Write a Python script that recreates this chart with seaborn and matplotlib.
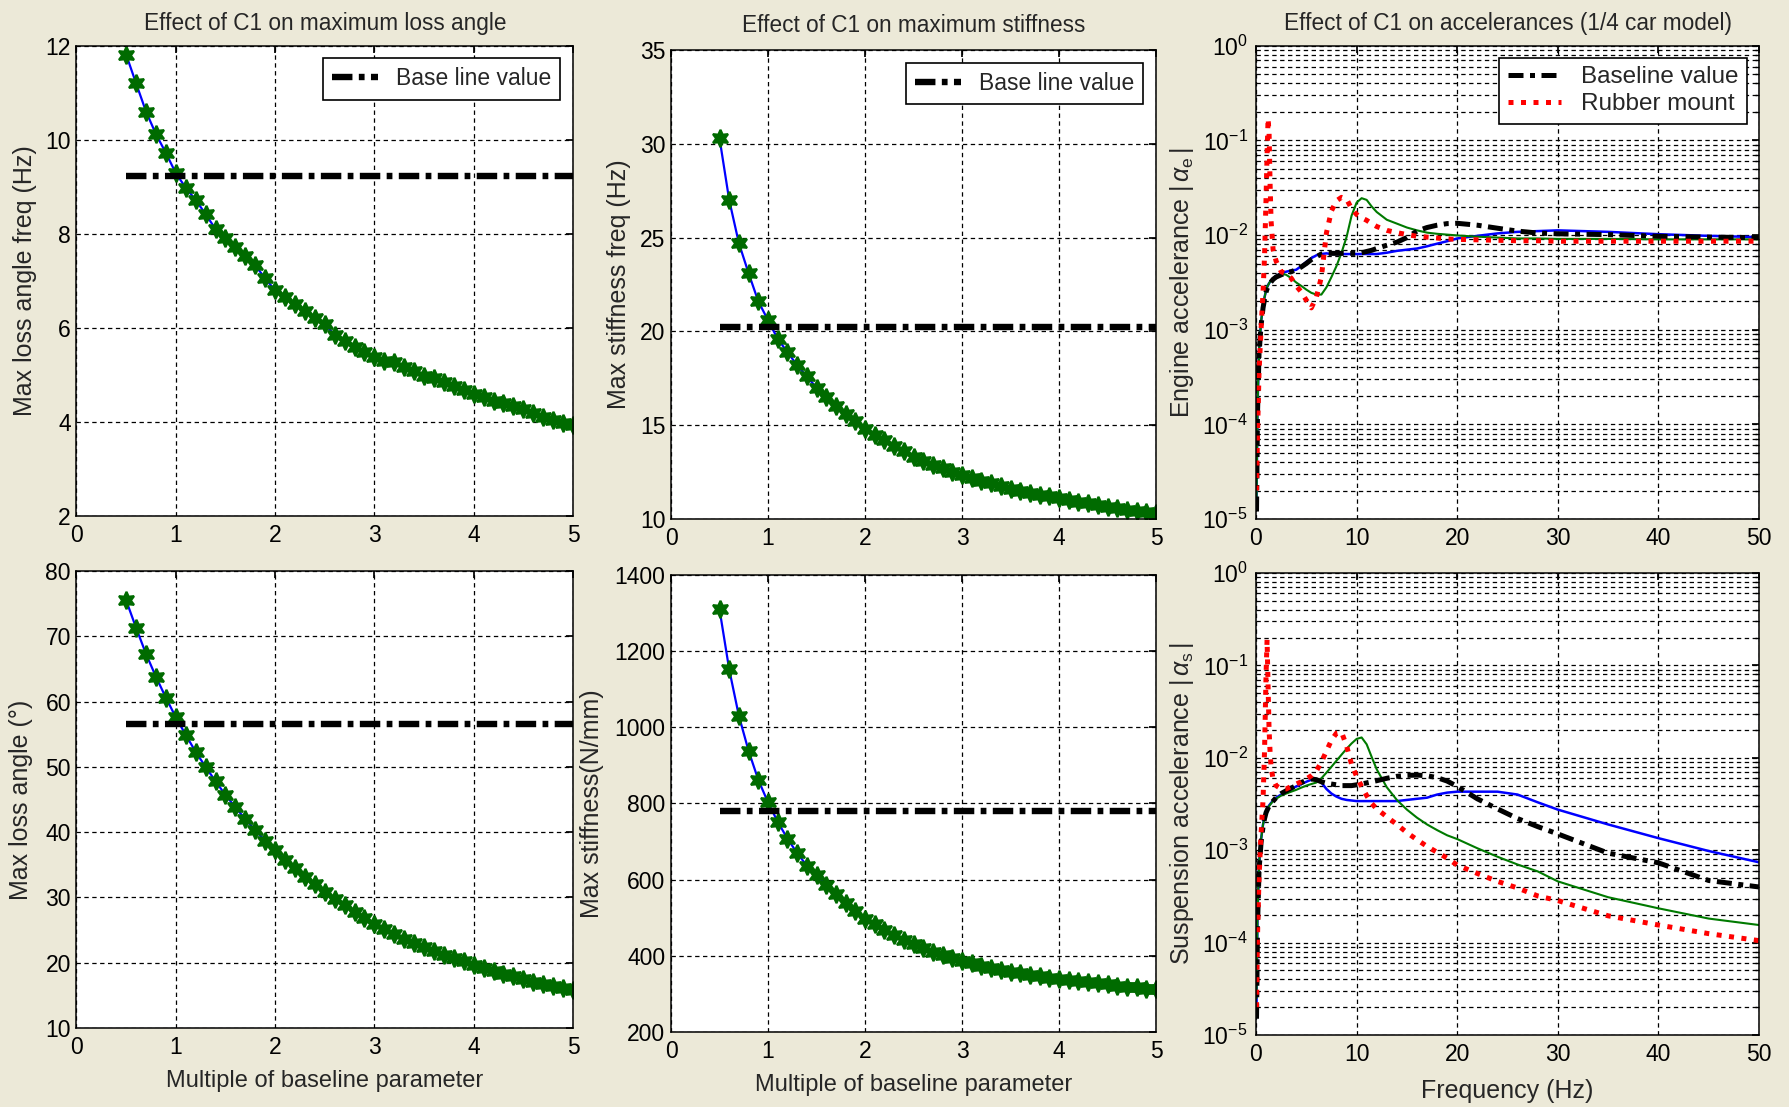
import numpy as np
import pandas as pd
import matplotlib
matplotlib.use("Agg")
import matplotlib.pyplot as plt
import seaborn as sns
from matplotlib.ticker import LogLocator, NullFormatter, LogFormatterMathtext

# ---------------- data ----------------
mult = [0.5, 0.6, 0.7, 0.8, 0.9, 1.0, 1.1, 1.2, 1.3, 1.4, 1.5, 1.6, 1.7, 1.8, 1.9,
        2.0, 2.1, 2.2, 2.3, 2.4, 2.5, 2.6, 2.7, 2.8, 2.9, 3.0, 3.1, 3.2, 3.3, 3.4,
        3.5, 3.6, 3.7, 3.8, 3.9, 4.0, 4.1, 4.2, 4.3, 4.4, 4.5, 4.6, 4.7, 4.8, 4.9, 5.0]

loss_freq = [11.81, 11.20, 10.60, 10.12, 9.72, 9.29, 8.98, 8.72, 8.42, 8.10, 7.92, 7.72,
             7.52, 7.33, 7.05, 6.80, 6.66, 6.50, 6.35, 6.22, 6.08, 5.85, 5.72, 5.60, 5.48,
             5.39, 5.30, 5.28, 5.17, 5.08, 4.98, 4.93, 4.84, 4.76, 4.68, 4.60, 4.52, 4.45,
             4.40, 4.33, 4.28, 4.20, 4.10, 4.05, 3.98, 3.93]

stiff_freq = [30.3, 27.0, 24.7, 23.1, 21.6, 20.6, 19.6, 18.9, 18.2, 17.6, 17.0, 16.5, 16.0,
              15.6, 15.2, 14.8, 14.5, 14.2, 13.9, 13.6, 13.3, 13.1, 12.9, 12.7, 12.5, 12.35,
              12.2, 12.05, 11.9, 11.75, 11.6, 11.5, 11.4, 11.3, 11.2, 11.1, 11.0, 10.9, 10.85,
              10.75, 10.65, 10.6, 10.5, 10.4, 10.35, 10.3]

loss_angle = [75.5, 71.3, 67.3, 63.8, 60.6, 57.6, 54.9, 52.3, 50.0, 47.8, 45.7, 43.8, 42.0,
              40.3, 38.7, 37.2, 35.8, 34.5, 33.2, 32.0, 30.9, 29.8, 28.8, 27.8, 26.9, 26.0,
              25.2, 24.4, 23.7, 23.0, 22.4, 21.8, 21.2, 20.7, 20.2, 19.7, 19.2, 18.7, 18.3,
              17.9, 17.5, 17.1, 16.8, 16.4, 16.1, 15.8]

max_stiff = [1310, 1152, 1030, 938, 862, 803, 752, 708, 670, 637, 612, 586, 562, 539, 518,
             498, 483, 469, 456, 442, 430, 420, 410, 401, 393, 386, 380, 374, 368, 363, 358,
             354, 350, 346, 343, 340, 337, 334, 331, 328, 325, 322, 319, 317, 314, 312]

base_x = [0.5, 5.0]
base_loss_freq = [9.24, 9.24]
base_stiff_freq = [20.23, 20.23]
base_loss_angle = [56.6, 56.6]
base_max_stiff = [780, 780]

freq = [0.05, 0.15, 0.3, 0.5, 0.7, 0.85, 1.0, 1.1, 1.2, 1.3, 1.4, 1.5, 1.7, 2.0, 2.5, 3.0,
        3.5, 4.0, 4.5, 5.0, 5.5, 6.0, 6.5, 7.0, 7.5, 8.0, 8.5, 9.0, 9.5, 10.0, 10.5, 11.0,
        11.5, 12.0, 13.0, 14.0, 15.0, 16.0, 17.0, 18.0, 19.0, 20.0, 22.0, 24.0, 26.0, 28.0,
        30.0, 35.0, 40.0, 45.0, 50.0]

# engine accelerance
eng_blue = [1.5e-5, 1.5e-4, 6e-4, 1.2e-3, 1.8e-3, 2.2e-3, 2.6e-3, 2.8e-3, 2.95e-3, 3.1e-3,
            3.2e-3, 3.3e-3, 3.5e-3, 3.7e-3, 3.95e-3, 4.1e-3, 4.2e-3, 4.3e-3, 4.7e-3, 5.2e-3,
            5.7e-3, 6.1e-3, 6.3e-3, 6.4e-3, 6.3e-3, 6.3e-3, 6.3e-3, 6.3e-3, 6.3e-3, 6.3e-3,
            6.3e-3, 6.3e-3, 6.3e-3, 6.3e-3, 6.5e-3, 6.8e-3, 7.0e-3, 7.2e-3, 7.6e-3, 8.1e-3,
            8.6e-3, 9.2e-3, 9.8e-3, 1.04e-2, 1.08e-2, 1.10e-2, 1.12e-2, 1.08e-2, 1.02e-2,
            9.8e-3, 9.5e-3]
eng_green = [1.5e-5, 1.5e-4, 6e-4, 1.2e-3, 1.8e-3, 2.2e-3, 2.6e-3, 2.8e-3, 2.95e-3, 3.1e-3,
             3.2e-3, 3.3e-3, 3.5e-3, 3.7e-3, 3.9e-3, 3.8e-3, 3.5e-3, 3.15e-3, 2.9e-3, 2.65e-3,
             2.45e-3, 2.35e-3, 2.35e-3, 2.8e-3, 3.6e-3, 4.7e-3, 6.5e-3, 9.5e-3, 1.6e-2, 2.2e-2,
             2.45e-2, 2.35e-2, 2.0e-2, 1.75e-2, 1.45e-2, 1.32e-2, 1.20e-2, 1.12e-2, 1.06e-2,
             1.03e-2, 1.01e-2, 9.9e-3, 9.6e-3, 9.4e-3, 9.2e-3, 9.2e-3, 9.1e-3, 9.1e-3, 9.0e-3,
             9.0e-3, 9.0e-3]
eng_base = [1.2e-5, 1.3e-4, 5.5e-4, 1.1e-3, 1.7e-3, 2.1e-3, 2.5e-3, 2.7e-3, 2.85e-3, 3.0e-3,
            3.1e-3, 3.2e-3, 3.4e-3, 3.6e-3, 3.8e-3, 4.0e-3, 4.1e-3, 4.3e-3, 4.6e-3, 5.0e-3,
            5.5e-3, 5.9e-3, 6.3e-3, 6.4e-3, 6.4e-3, 6.4e-3, 6.4e-3, 6.4e-3, 6.4e-3, 6.4e-3,
            6.5e-3, 6.7e-3, 6.9e-3, 7.2e-3, 7.8e-3, 8.4e-3, 9.4e-3, 1.10e-2, 1.20e-2, 1.27e-2,
            1.32e-2, 1.33e-2, 1.27e-2, 1.18e-2, 1.10e-2, 1.05e-2, 1.03e-2, 1.01e-2, 9.7e-3,
            9.5e-3, 9.4e-3]
eng_rubber = [2e-5, 8e-5, 3.5e-4, 1.0e-3, 2.5e-3, 6e-3, 2.5e-2, 7e-2, 1.7e-1, 1.2e-1, 3.5e-2,
              1.4e-2, 7e-3, 5.3e-3, 4.1e-3, 3.9e-3, 3.5e-3, 2.9e-3, 2.5e-3, 2.05e-3, 1.7e-3,
              2.2e-3, 3.6e-3, 1.05e-2, 1.8e-2, 2.3e-2, 2.5e-2, 2.4e-2, 1.9e-2, 1.65e-2, 1.52e-2,
              1.43e-2, 1.32e-2, 1.23e-2, 1.12e-2, 1.06e-2, 1.01e-2, 9.7e-3, 9.5e-3, 9.3e-3,
              9.1e-3, 9.0e-3, 8.9e-3, 8.8e-3, 8.7e-3, 8.7e-3, 8.6e-3, 8.6e-3, 8.6e-3, 8.6e-3,
              8.6e-3]

# suspension accelerance
sus_blue = [2e-5, 2e-4, 7e-4, 1.3e-3, 1.9e-3, 2.3e-3, 2.6e-3, 2.75e-3, 2.9e-3, 3.05e-3,
            3.15e-3, 3.25e-3, 3.45e-3, 3.7e-3, 4.0e-3, 4.3e-3, 4.6e-3, 4.9e-3, 5.2e-3, 5.5e-3,
            5.8e-3, 5.9e-3, 5.4e-3, 4.6e-3, 4.1e-3, 3.8e-3, 3.6e-3, 3.5e-3, 3.45e-3, 3.4e-3,
            3.4e-3, 3.4e-3, 3.4e-3, 3.4e-3, 3.4e-3, 3.4e-3, 3.5e-3, 3.6e-3, 3.7e-3, 4.0e-3,
            4.2e-3, 4.3e-3, 4.3e-3, 4.3e-3, 4.0e-3, 3.3e-3, 2.75e-3, 1.9e-3, 1.35e-3, 9.8e-4,
            7.4e-4]
sus_green = [2.5e-5, 2e-4, 7e-4, 1.3e-3, 1.9e-3, 2.25e-3, 2.55e-3, 2.7e-3, 2.85e-3, 3.0e-3,
             3.1e-3, 3.2e-3, 3.4e-3, 3.6e-3, 3.9e-3, 4.1e-3, 4.3e-3, 4.5e-3, 4.75e-3, 5.0e-3,
             5.2e-3, 5.4e-3, 6.0e-3, 6.9e-3, 8.0e-3, 9.3e-3, 1.08e-2, 1.25e-2, 1.43e-2, 1.6e-2,
             1.66e-2, 1.4e-2, 1.02e-2, 7.5e-3, 4.8e-3, 3.5e-3, 2.75e-3, 2.25e-3, 1.9e-3,
             1.65e-3, 1.45e-3, 1.32e-3, 1.05e-3, 8.5e-4, 7.0e-4, 5.9e-4, 4.6e-4, 3.1e-4,
             2.35e-4, 1.82e-4, 1.55e-4]
sus_base = [1.5e-5, 1.5e-4, 6e-4, 1.2e-3, 1.8e-3, 2.2e-3, 2.55e-3, 2.7e-3, 2.85e-3, 3.0e-3,
            3.1e-3, 3.2e-3, 3.4e-3, 3.7e-3, 4.1e-3, 4.4e-3, 4.7e-3, 5.0e-3, 5.4e-3, 5.7e-3,
            5.9e-3, 5.8e-3, 5.5e-3, 5.3e-3, 5.2e-3, 5.1e-3, 5.0e-3, 5.0e-3, 5.0e-3, 5.1e-3,
            5.2e-3, 5.35e-3, 5.5e-3, 5.65e-3, 6.0e-3, 6.3e-3, 6.45e-3, 6.5e-3, 6.4e-3, 6.1e-3,
            5.6e-3, 4.9e-3, 3.6e-3, 2.8e-3, 2.2e-3, 1.8e-3, 1.5e-3, 9.3e-4, 7.3e-4, 4.7e-4,
            4.0e-4]
sus_rubber = [2e-5, 1.2e-4, 5e-4, 1.5e-3, 3.5e-3, 1.2e-2, 8e-2, 1.9e-1, 6e-2, 2e-2, 1.15e-2,
              8e-3, 5.8e-3, 5.0e-3, 4.6e-3, 4.6e-3, 4.9e-3, 5.2e-3, 5.5e-3, 5.9e-3, 6.4e-3,
              7.2e-3, 9.0e-3, 1.18e-2, 1.55e-2, 1.85e-2, 1.9e-2, 1.35e-2, 8.5e-3, 6.3e-3,
              4.9e-3, 3.9e-3, 3.2e-3, 2.8e-3, 2.3e-3, 1.9e-3, 1.55e-3, 1.3e-3, 1.1e-3, 9.5e-4,
              8.2e-4, 6.9e-4, 5.6e-4, 4.6e-4, 3.9e-4, 3.2e-4, 2.85e-4, 1.95e-4, 1.55e-4,
              1.25e-4, 1.05e-4]

# ---------------- style ----------------
sns.set_theme(style="white")
NARROW = ["Liberation Sans Narrow", "Liberation Sans", "DejaVu Sans"]
REG = ["Liberation Sans", "DejaVu Sans"]
plt.rcParams["font.family"] = NARROW
plt.rcParams["mathtext.fontset"] = "custom"
plt.rcParams["mathtext.rm"] = "Liberation Sans"
plt.rcParams["mathtext.it"] = "Liberation Sans:italic"
plt.rcParams["mathtext.bf"] = "Liberation Sans:bold"
plt.rcParams["axes.unicode_minus"] = False

BG = "#ECE9D8"
GREEN = "#006B00"
BLUE = "#0000FF"
TICK_FS = 16.5
TITLE_FS = 16.3
LAB_FS = 18
LEG_FS = 16.5
GRID_KW = dict(color="black", linestyle=(0, (3.5, 2.8)), linewidth=0.9)

fig = plt.figure(figsize=(17.9, 11.07), dpi=100, facecolor=BG)
W, H = 1790.0, 1107.0


def add_ax(x0, x1, y0, y1):
    return fig.add_axes([x0 / W, 1 - y1 / H, (x1 - x0) / W, (y1 - y0) / H])


def common(ax):
    ax.set_facecolor("white")
    for s in ax.spines.values():
        s.set_color("black")
        s.set_linewidth(1.1)
        s.set_visible(True)
    ax.tick_params(which="both", direction="in", top=True, right=True,
                   colors="black", labelsize=TICK_FS)
    ax.tick_params(axis="y", pad=4)
    ax.tick_params(axis="x", pad=6)
    ax.set_axisbelow(True)


def param_panel(ax, y, base_y, ylim, yticks, title, ylabel, ylab_x, xlabel=None,
                title_pad=11.5):
    common(ax)
    ax.tick_params(which="major", length=5)
    ax.grid(True, which="major", **GRID_KW)
    sns.lineplot(x=mult, y=y, ax=ax, color=BLUE, linewidth=1.6, sort=False,
                 estimator=None)
    sns.lineplot(x=mult, y=y, ax=ax, color=GREEN, linestyle="none", sort=False,
                 estimator=None, marker=(6, 1, 0), markersize=12.5,
                 markeredgecolor=GREEN, markeredgewidth=1.6)
    sns.lineplot(x=base_x, y=base_y, ax=ax, color="black", linewidth=4.6, sort=False,
                 estimator=None, linestyle=(0, (3.2, 1.0, 0.9, 1.0)),
                 label="Base line value")
    ax.set_xlim(0, 5)
    ax.set_ylim(*ylim)
    ax.set_xticks([0, 1, 2, 3, 4, 5])
    ax.set_yticks(yticks)
    ax.set_xticklabels(["0", "1", "2", "3", "4", "5"])
    ax.set_yticklabels([str(v) for v in yticks])
    if title:
        ax.set_title(title, fontsize=TITLE_FS, pad=title_pad)
    ax.set_ylabel(ylabel, fontsize=LAB_FS, family=REG)
    ax.yaxis.set_label_coords(ylab_x, 0.5)
    if xlabel:
        ax.set_xlabel(xlabel, fontsize=LAB_FS - 1)
        ax.xaxis.set_label_coords(0.5, -0.092)
    else:
        ax.set_xlabel("")
    leg = ax.legend(loc="upper right", fontsize=LEG_FS, frameon=True, fancybox=False,
                    edgecolor="black", framealpha=1, handlelength=2.0,
                    borderpad=0.4, handletextpad=0.8, borderaxespad=0.55)
    leg.get_frame().set_linewidth(1.2)


def accel_panel(ax, blue, green, base, rubber, ylabel, title=None, xlabel=None,
                legend=False):
    common(ax)
    ax.set_yscale("log")
    sns.lineplot(x=freq, y=blue, ax=ax, color=BLUE, linewidth=1.8, sort=False,
                 estimator=None)
    sns.lineplot(x=freq, y=green, ax=ax, color="#007A00", linewidth=1.5, sort=False,
                 estimator=None)
    sns.lineplot(x=freq, y=base, ax=ax, color="black", linewidth=3.6, sort=False,
                 estimator=None, linestyle=(0, (3, 1.3, 1, 1.3)), label="Baseline value")
    sns.lineplot(x=freq, y=rubber, ax=ax, color="#FF0000", linewidth=3.6, sort=False,
                 estimator=None, linestyle=(0, (1, 1.5)), label="Rubber mount")
    for ln in ax.get_lines():
        ln.set_dash_capstyle("butt")
    ax.set_xlim(0, 50)
    ax.set_ylim(1e-5, 1)
    ax.set_xticks([0, 10, 20, 30, 40, 50])
    ax.set_xticklabels(["0", "10", "20", "30", "40", "50"])
    ax.yaxis.set_major_locator(LogLocator(base=10, numticks=10))
    ax.yaxis.set_minor_locator(LogLocator(base=10, subs=np.arange(2, 10), numticks=20))
    ax.yaxis.set_major_formatter(LogFormatterMathtext())
    ax.yaxis.set_minor_formatter(NullFormatter())
    ax.tick_params(which="major", length=5)
    ax.tick_params(which="minor", length=3)
    ax.tick_params(axis="y", pad=6)
    ax.grid(True, which="major", axis="both", **GRID_KW)
    ax.grid(True, which="minor", axis="y", **GRID_KW)
    if title:
        ax.set_title(title, fontsize=TITLE_FS, pad=11.5)
    ax.set_ylabel(ylabel, fontsize=LAB_FS, family=REG)
    ax.yaxis.set_label_coords(-0.119, 0.5)
    if xlabel:
        ax.set_xlabel(xlabel, fontsize=LAB_FS)
        ax.xaxis.set_label_coords(0.5, -0.095)
    else:
        ax.set_xlabel("")
    if legend:
        h, l = ax.get_legend_handles_labels()
        leg = ax.legend(h, l, loc="upper right", fontsize=LEG_FS + 1, frameon=True,
                        fancybox=False, edgecolor="black", framealpha=1,
                        handlelength=2.2, borderpad=0.35, handletextpad=0.8,
                        labelspacing=0.2, borderaxespad=0.5)
        leg.get_frame().set_linewidth(1.2)
    else:
        lg = ax.get_legend()
        if lg is not None:
            lg.remove()


ax_tl = add_ax(76.5, 573, 45.7, 516)
ax_tm = add_ax(671, 1156, 50, 519)
ax_tr = add_ax(1256, 1759, 45.7, 519)
ax_bl = add_ax(76.5, 573, 571, 1028)
ax_bm = add_ax(671, 1156, 575, 1032)
ax_br = add_ax(1256, 1759, 573, 1035)

param_panel(ax_tl, loss_freq, base_loss_freq, (2, 12), [2, 4, 6, 8, 10, 12],
            "Effect of C1 on maximum loss angle", "Max loss angle freq (Hz)", -0.080)
param_panel(ax_tm, stiff_freq, base_stiff_freq, (10, 35), [10, 15, 20, 25, 30, 35],
            "Effect of C1 on maximum stiffness", "Max stiffness freq (Hz)", -0.083,
            title_pad=13)
param_panel(ax_bl, loss_angle, base_loss_angle, (10, 80), [10, 20, 30, 40, 50, 60, 70, 80],
            None, "Max loss angle (\u00b0)", -0.088,
            xlabel="Multiple of baseline parameter")
param_panel(ax_bm, max_stiff, base_max_stiff, (200, 1400),
            [200, 400, 600, 800, 1000, 1200, 1400],
            None, "Max stiffness(N/mm)", -0.138,
            xlabel="Multiple of baseline parameter")
ax_bl.get_legend().remove()
ax_bm.get_legend().remove()

accel_panel(ax_tr, eng_blue, eng_green, eng_base, eng_rubber,
            r"Engine accelerance $|\,\alpha_{\rm e}\,|$",
            title="Effect of C1 on accelerances (1/4 car model)", legend=True)
accel_panel(ax_br, sus_blue, sus_green, sus_base, sus_rubber,
            r"Suspension accelerance $|\,\alpha_{\rm s}\,|$",
            xlabel="Frequency (Hz)", legend=False)

fig.savefig("out.png", dpi=100, facecolor=BG)
